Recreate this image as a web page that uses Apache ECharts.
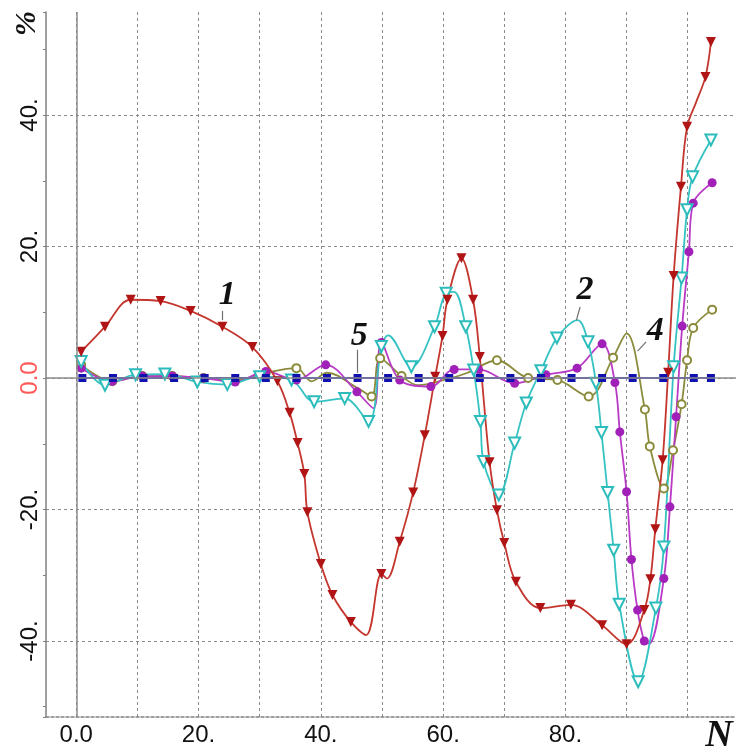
<!DOCTYPE html>
<html>
<head>
<meta charset="utf-8">
<script src="https://cdn.jsdelivr.net/npm/echarts@6/dist/echarts.min.js"></script>
<style>
html,body{margin:0;padding:0;background:#fff;}
#chart{width:736px;height:751px;}
</style>
</head>
<body>
<div id="chart"></div>
<script>
// ---- data ----
var xTickLabels = {0: '0.0', 20: '20.', 40: '40.', 60: '60.', 80: '80.'};
var yTickLabels = {'-40': '-40.', '-20': '-20.', '0': '0.0', '20': '20.', '40': '40.'};

var redX = [0.8, 4.7, 8.9, 13.8, 18.7, 23.9, 28.8, 32.9, 34.9, 36.2, 37.3, 37.8, 40.0, 41.9, 44.9, 47.4, 49.9, 50.8, 52.9, 55.1, 57.0, 58.7, 59.9, 60.7, 63.0, 64.9, 66.0, 67.6, 68.8, 70.0, 71.9, 75.9, 80.9, 86.0, 90.0, 92.9, 93.9, 94.7, 95.9, 96.8, 97.7, 98.9, 99.9, 101.4, 102.9, 103.8];
var redY = [4.0, 7.8, 11.9, 11.7, 10.2, 7.8, 4.7, -0.5, -5.3, -9.9, -14.6, -20.4, -28.3, -33.0, -37.1, -39.1, -29.8, -30.5, -24.9, -17.4, -8.7, 0.2, 6.4, 11.9, 18.2, 11.9, 3.2, -12.8, -20.1, -25.1, -31.0, -35.0, -34.5, -37.6, -40.5, -35.3, -30.6, -23.0, -12.5, 0.8, 15.5, 29.1, 38.2, 42.0, 45.8, 51.1];
var redNoMarker = [15, 17, 43];

var cyanX = [0.8, 4.7, 9.7, 14.5, 19.8, 24.7, 30.0, 35.2, 38.9, 43.9, 47.8, 49.9, 51.0, 54.8, 58.6, 60.5, 61.8, 63.7, 65.0, 66.1, 66.6, 69.1, 71.7, 73.6, 76.0, 78.6, 82.0, 83.7, 85.0, 85.9, 86.9, 87.9, 88.8, 91.9, 94.8, 96.1, 97.7, 99.0, 99.9, 100.8, 103.8];
var cyanY = [2.5, -1.1, 0.5, 0.6, -0.6, -1.0, 0.2, -0.3, -3.6, -3.1, -6.6, 4.8, 6.5, 1.7, 7.8, 12.9, 13.1, 7.8, 1.2, -6.6, -12.7, -17.8, -9.9, -3.8, 1.1, 6.1, 8.8, 5.5, -0.8, -8.3, -17.4, -26.2, -34.4, -46.2, -35.0, -25.7, 1.7, 15.2, 25.6, 30.6, 36.2];
var cyanNoMarker = [12, 16, 26];

var magX = [0.8, 5.9, 10.8, 15.7, 20.8, 26.0, 31.0, 36.0, 40.8, 45.9, 48.6, 49.9, 52.9, 58.0, 61.8, 65.8, 71.7, 76.8, 81.9, 86.0, 88.1, 88.9, 90.0, 90.8, 91.8, 92.9, 93.7, 96.1, 97.1, 98.1, 99.1, 100.2, 100.9, 104.0];
var magY = [1.5, -0.5, 0.3, 0.3, 0.0, -0.6, 1.0, -0.3, 2.0, -2.1, -4.6, 5.4, -0.3, -1.3, 1.3, 1.3, -0.8, 0.5, 1.5, 5.2, -0.7, -8.2, -17.3, -27.6, -35.3, -40.0, -40.4, -30.5, -19.6, -5.9, 7.9, 19.2, 26.6, 29.7];
var magNoMarker = [10, 26];

var oliveX = [0.8, 5.9, 10.8, 15.7, 20.8, 26.0, 31.0, 36.0, 38.5, 41.0, 46.0, 48.3, 49.7, 53.2, 55.9, 61.3, 64.0, 68.8, 73.9, 78.7, 83.8, 87.8, 90.0, 93.0, 93.8, 96.1, 97.6, 99.0, 99.9, 100.9, 104.0];
var oliveY = [2.0, -0.5, 0.3, 0.3, 0.0, -0.3, 0.8, 1.5, -0.5, 0.8, -1.5, -2.8, 3.0, 0.3, -1.1, 0.0, 0.8, 2.7, 0.0, -0.3, -2.8, 3.1, 6.8, -4.8, -10.4, -16.8, -11.0, -4.0, 2.7, 7.6, 10.4];
var oliveNoMarker = [8, 9, 10, 14, 15, 16, 22];

var blueX = [1, 6, 11, 16, 21, 26, 31, 36, 41, 46, 51, 56, 61, 66, 71, 76, 81, 86, 91, 96, 101, 103.8];
var blueY = [0, 0, 0, 0, 0, 0, 0, 0, 0, 0, 0, 0, 0, 0, 0, 0, 0, 0, 0, 0, 0, 0];

// curve labels: [text, x, y] and leader lines [x1, y1, x2, y2] in data units
var curveLabels = [['1', 24.7, 12.6], ['2', 83.2, 13.4], ['4', 94.7, 7.1], ['5', 46.3, 6.4]];
var leaderLines = [[23.9, 10.2, 23.9, 8.8], [82.4, 10.8, 81.8, 8.8], [93.2, 5.5, 91.8, 4.1], [46.0, 4.3, 46.0, 0.8]];

// ---- build ----
function pts(xs, ys, hidden) {
  return xs.map(function (x, i) {
    var d = {value: [x, ys[i]]};
    if (hidden && hidden.indexOf(i) >= 0) { d.symbol = 'none'; }
    return d;
  });
}

var chart = echarts.init(document.getElementById('chart'), null, {renderer: 'canvas'});
var labelFont = "'Liberation Sans', Arial, sans-serif";
var serif = "'Liberation Serif', 'DejaVu Serif', serif";

var option = {
  animation: false,
  backgroundColor: '#ffffff',
  grid: {left: 46, top: 12, right: -10, bottom: 34, containLabel: false},
  xAxis: {
    type: 'value', min: -4.95, max: 107.9, minInterval: 10, maxInterval: 10,
    axisLine: {show: true, onZero: false, lineStyle: {color: '#808080', width: 1.5, type: [3, 2]}},
    axisTick: {show: false},
    splitLine: {show: true, showMinLine: false, showMaxLine: false, lineStyle: {color: '#8a8a8a', width: 1, type: [3, 3]}},
    axisLabel: {
      show: true, margin: 6, fontSize: 24, fontFamily: labelFont,
      showMinLabel: false, showMaxLabel: false,
      formatter: function (v) { return xTickLabels[v] !== undefined ? xTickLabels[v] : ''; },
      color: function (v) { return v === 0 ? '#ff5a5a' : '#111'; }
    }
  },
  yAxis: {
    type: 'value', min: -51.56, max: 55.67, minInterval: 20, maxInterval: 20,
    axisLine: {show: true, onZero: false, lineStyle: {color: '#808080', width: 1.5}},
    axisTick: {show: true, length: 3, inside: false, lineStyle: {color: '#808080'}},
    minorTick: {show: true, splitNumber: 2, length: 3, lineStyle: {color: '#808080'}},
    splitLine: {show: true, showMinLine: false, showMaxLine: false, lineStyle: {color: '#8a8a8a', width: 1, type: [3, 3]}},
    axisLabel: {
      show: true, rotate: 90, margin: 4, fontSize: 24, fontFamily: labelFont,
      showMinLabel: false, showMaxLabel: false,
      formatter: function (v) { var k = String(v); return yTickLabels[k] !== undefined ? yTickLabels[k] : ''; },
      color: function (v) { return Number(v) === 0 ? '#ff5a5a' : '#111'; }
    }
  },
  graphic: [
    {type: 'text', left: 12, top: 11, rotation: Math.PI / 2, originX: 0, originY: 0,
     style: {text: '%', font: "bold italic 30px " + serif, fill: '#111'}},
    {type: 'text', x: 719, y: 736,
     style: {text: 'N', font: "bold italic 38px " + serif, fill: '#111', align: 'center', verticalAlign: 'middle'}}
  ],
  series: [
    {
      name: '4', type: 'line', smooth: 0.35, data: pts(oliveX, oliveY, oliveNoMarker),
      symbol: 'emptyCircle', symbolSize: 8,
      lineStyle: {color: '#8b8b3c', width: 1.8}, itemStyle: {color: '#8b8b3c', borderWidth: 1.5},
      markLine: {
        silent: true, symbol: 'none', label: {show: false},
        lineStyle: {color: '#8c8c8c', width: 1.5, type: 'solid'},
        data: [{xAxis: 0}, {yAxis: 0}]
      }
    },
    {
      name: '3', type: 'line', smooth: 0.35, data: pts(magX, magY, magNoMarker),
      symbol: 'circle', symbolSize: 9,
      lineStyle: {color: '#b83ac6', width: 1.8}, itemStyle: {color: '#a020b8'}
    },
    {
      name: '2', type: 'line', smooth: 0.35, data: pts(cyanX, cyanY, cyanNoMarker),
      symbol: 'emptyTriangle', symbolRotate: 180, symbolSize: 11,
      lineStyle: {color: '#35c2c2', width: 1.8}, itemStyle: {color: '#2cbcbc', borderWidth: 1.5}
    },
    {
      name: '1', type: 'line', smooth: 0.35, data: pts(redX, redY, redNoMarker),
      symbol: 'triangle', symbolRotate: 180, symbolSize: 10,
      lineStyle: {color: '#c4362e', width: 1.8}, itemStyle: {color: '#b01414'}
    },
    {
      name: '5', type: 'line', smooth: false, data: pts(blueX, blueY, null),
      symbol: 'rect', symbolSize: 8,
      lineStyle: {color: '#2424d0', width: 2.2}, itemStyle: {color: '#1010b0'},
      markLine: {
        silent: true, symbol: 'none', label: {show: false},
        lineStyle: {color: '#707070', width: 1.2, type: 'solid'},
        data: leaderLines.map(function (l) { return [{coord: [l[0], l[1]]}, {coord: [l[2], l[3]]}]; })
      },
      markPoint: {
        silent: true, symbol: 'circle', symbolSize: 1, itemStyle: {color: 'rgba(0,0,0,0)'},
        label: {show: true, position: 'inside', formatter: function (p) { return p.name; },
                fontFamily: serif, fontStyle: 'italic', fontWeight: 'bold', fontSize: 34, color: '#111'},
        data: curveLabels.map(function (c) { return {name: c[0], coord: [c[1], c[2]]}; })
      }
    }
  ]
};
chart.setOption(option);
</script>
</body>
</html>
